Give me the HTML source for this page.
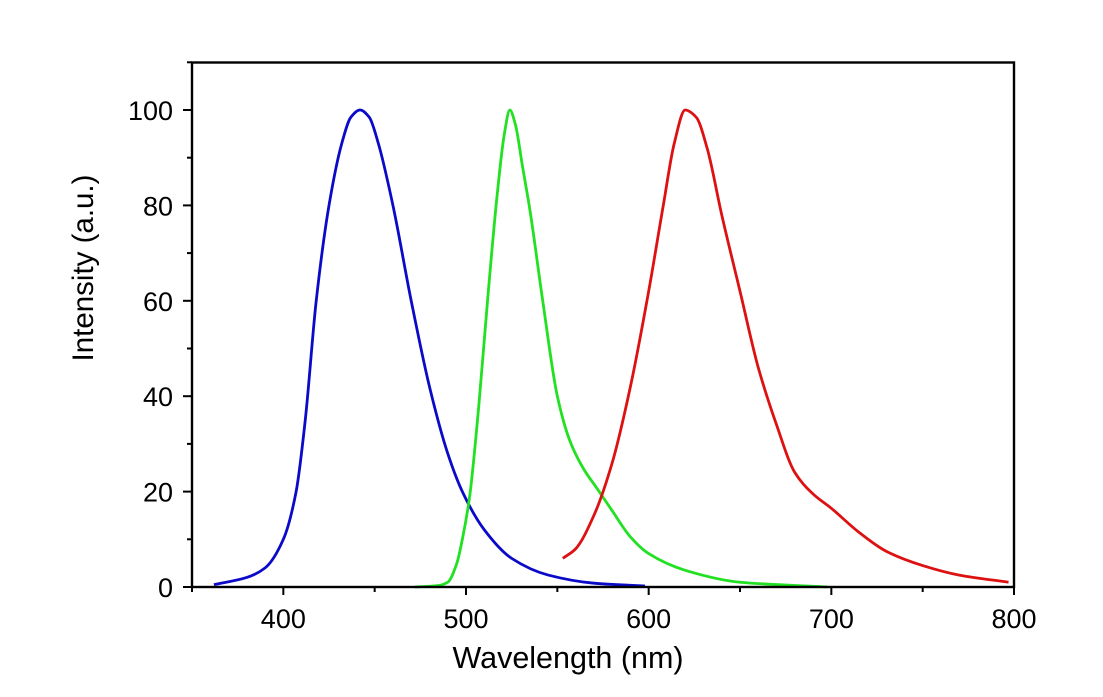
<!DOCTYPE html>
<html><head><style>body{margin:0;background:#fff}</style></head><body>
<svg id="s" width="1103" height="692" xmlns="http://www.w3.org/2000/svg" font-family="Liberation Sans, Arial, sans-serif">
<rect width="1103" height="692" fill="#fff"/>
<g id="curves" fill="none" stroke-width="2.8" stroke-linejoin="round"></g>
<rect x="192" y="62.5" width="822" height="524.5" fill="none" stroke="#000" stroke-width="2.4"/>
<g id="ticks" stroke="#000" stroke-width="2"></g>
<g id="labels" font-size="27" fill="#000"></g>
<text x="568" y="668" font-size="30.5" text-anchor="middle">Wavelength (nm)</text>
<text transform="translate(93,268) rotate(-90)" font-size="29.5" text-anchor="middle">Intensity (a.u.)</text>
</svg>
<script>
const X=l=>192+(l-350)*1.8267, Y=v=>587-v*4.77;
const ns="http://www.w3.org/2000/svg";
function el(p,t,a,txt){const e=document.createElementNS(ns,t);for(const k in a)e.setAttribute(k,a[k]);if(txt!=null)e.textContent=txt;p.appendChild(e);}
const tk=document.getElementById('ticks'),lb=document.getElementById('labels');
for(let l=350;l<=800;l+=50){const maj=l%100==0;el(tk,'line',{x1:X(l),x2:X(l),y1:587,y2:maj?595:592});if(maj&&l>=400)el(lb,'text',{x:X(l),y:628,'text-anchor':'middle'},l);}
for(let v=0;v<=110;v+=10){const maj=v%20==0;el(tk,'line',{x1:192,x2:maj?183:187,y1:Y(v),y2:Y(v)});if(maj)el(lb,'text',{x:173,y:Y(v)+10,'text-anchor':'end'},v);}
function mono(pts){const n=pts.length,xs=pts.map(p=>p[0]),ys=pts.map(p=>p[1]);const d=[],m=[];for(let i=0;i<n-1;i++)d.push((ys[i+1]-ys[i])/(xs[i+1]-xs[i]));m[0]=d[0];m[n-1]=d[n-2];for(let i=1;i<n-1;i++){if(d[i-1]*d[i]<=0)m[i]=0;else{const w1=2*(xs[i+1]-xs[i])+(xs[i]-xs[i-1]),w2=(xs[i+1]-xs[i])+2*(xs[i]-xs[i-1]);m[i]=(w1+w2)/(w1/d[i-1]+w2/d[i]);}}
let s=`M${X(xs[0])},${Y(ys[0])}`;for(let i=0;i<n-1;i++){const h=xs[i+1]-xs[i];s+=`C${X(xs[i]+h/3)},${Y(ys[i]+m[i]*h/3)} ${X(xs[i+1]-h/3)},${Y(ys[i+1]-m[i+1]*h/3)} ${X(xs[i+1])},${Y(ys[i+1])}`;}return s;}
const cv=document.getElementById('curves');
const blue=[[362,0.5],[380,2],[390,4],[400,10],[407,20],[412,35],[418,60],[425,80],[432,93],[437,98.5],[442,100],[447,98.5],[452,93],[460,80],[470,60],[480,42],[490,28],[498,20],[510,12],[525,6],[545,2.5],[570,0.8],[598,0.2]];
const green=[[472,0],[485,0.3],[490,1],[495,5],[498,10],[502,19],[507,38],[512,61],[517,82],[521,95],[524,100],[527,97],[531,88],[535,79],[542,60],[550,40],[557,30.5],[564,25],[572,20.5],[580,16],[590,10.5],[600,7],[620,3.5],[650,1],[698,0]];
const red=[[553,6],[560,8],[570,15],[580,26],[590,42],[600,62],[608,80],[614,93],[620,100],[626,98.5],[632,92],[640,78],[650,62],[660,46],[670,34],[680,24],[690,19.5],[700,16.5],[715,11.5],[730,7.5],[750,4.5],[770,2.5],[797,1]];
el(cv,'path',{d:mono(blue),stroke:'#0a0ac8'});
el(cv,'path',{d:mono(green),stroke:'#22e022'});
el(cv,'path',{d:mono(red),stroke:'#dd1111'});
</script>
</body></html>
